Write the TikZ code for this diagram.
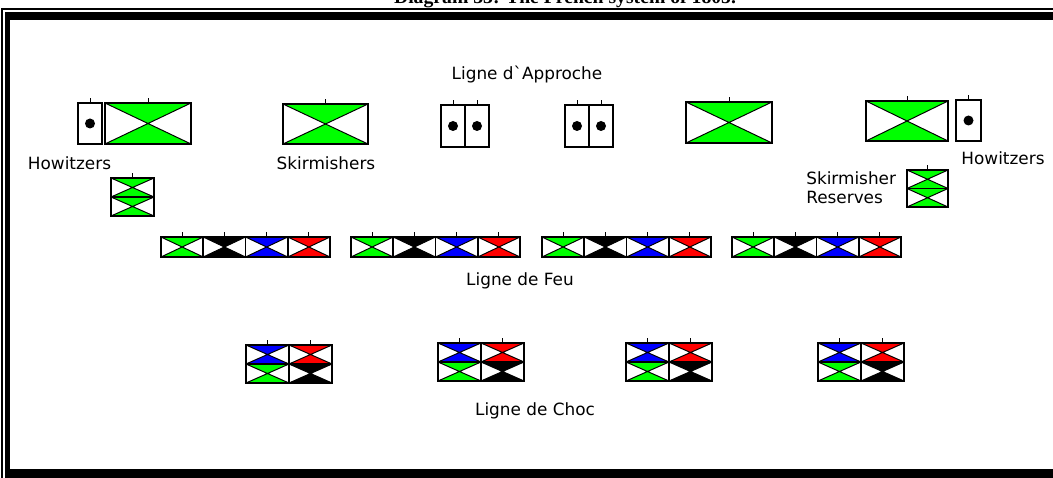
\documentclass[tikz,border=0pt]{standalone}
\usepackage{fontspec}
\setmainfont{DejaVu Sans}
\newfontfamily\titlefont{Liberation Serif}
\usetikzlibrary{positioning}

\begin{document}
\begin{tikzpicture}[
        x=0.025cm, y=-0.025cm,
        lbl/.style={inner sep=0pt, font=\fontsize{12}{14}\selectfont},
        pics/cell/.style n args={3}{code={
            \fill[#1] (0,0) -- (#2,0) -- (#2/2,#3/2) -- cycle;
            \fill[#1] (0,#3) -- (#2,#3) -- (#2/2,#3/2) -- cycle;
            \draw[line width=0.7pt] (0,0) -- (#2,#3) (0,#3) -- (#2,0);
            \draw[line width=1.3pt] (0,0) rectangle (#2,#3);
        }},
        pics/tick/.style={code={
            \draw[line width=0.7pt] (0,0) -- (0,-5);
        }},
        pics/gun/.style n args={2}{code={
            \draw[line width=1.3pt, fill=white] (0,0) rectangle (#1,#2);
            \fill (#1/2,#2/2) circle[radius=5];
            \pic at (#1/2,0) {tick};
        }},
        pics/reserve/.style n args={2}{code={
            \pic at (0,0) {cell={green}{#1}{#2}};
            \pic at (0,#2) {cell={green}{#1}{#2}};
            \pic at (#1/2,0) {tick};
        }},
        pics/feu/.style={code={
            \pic at (0,0) {cell={green}{42.25}{20}};
            \pic at (42.25,0) {cell={black}{42.25}{20}};
            \pic at (84.5,0) {cell={blue}{42.25}{20}};
            \pic at (126.75,0) {cell={red}{42.25}{20}};
            \pic at (21.1,0) {tick};
            \pic at (63.4,0) {tick};
            \pic at (105.6,0) {tick};
            \pic at (147.9,0) {tick};
        }},
        pics/choc/.style={code={
            \pic at (0,0) {cell={blue}{43}{19}};
            \pic at (43,0) {cell={red}{43}{19}};
            \pic at (0,19) {cell={green}{43}{19}};
            \pic at (43,19) {cell={black}{43}{19}};
            \pic at (21.5,0) {tick};
            \pic at (64.5,0) {tick};
        }}
    ]
        \useasboundingbox (0,0) rectangle (1053,478);

        % frame
        \fill (1.5,8.5) rectangle (1060,10);
        \fill (1.5,8.5) rectangle (3,480);
        \fill (5,12) rectangle (1060,20);
        \fill (5,12) rectangle (10,480);
        \fill (5,469) rectangle (1060,480);
        \node[anchor=base, inner sep=0pt, font=\titlefont\bfseries\fontsize{14}{16}\selectfont] (title) at (565,4)
            {Diagram 33: The French system of 1805.};

        % ligne d'approche
        \node[lbl] (approche) at (527,75) {Ligne d\textasciigrave Approche};
        \pic at (78,103) {gun={24}{41}};
        \pic at (105,103) {cell={green}{86}{41}};
        \pic at (148,103) {tick};
        \node[lbl] (howl) at (69.5,163) {Howitzers};
        \pic at (111,178) {reserve={43}{19}};

        \pic at (283,104) {cell={green}{85}{40}};
        \pic at (325.5,104) {tick};
        \node[lbl] (skirm) at (326,163) {Skirmishers};

        \pic at (441,105) {gun={24}{42}};
        \pic at (465,105) {gun={24}{42}};
        \pic at (565,105) {gun={24}{42}};
        \pic at (589,105) {gun={24}{42}};

        \pic at (686,102) {cell={green}{86}{41}};
        \pic at (729,102) {tick};
        \pic at (866,101) {cell={green}{82}{40}};
        \pic at (907,101) {tick};
        \pic at (956,100) {gun={25}{41}};
        \node[lbl] (howr) at (1003,158) {Howitzers};
        \pic at (907,170) {reserve={41}{18.5}};
        \node[lbl, anchor=north west, align=left] (resv) at (806,171)
            {Skirmisher\\Reserves};

        % ligne de feu
        \pic at (161,237) {feu};
        \pic at (351,237) {feu};
        \pic at (542,237) {feu};
        \pic at (732,237) {feu};
        \node[lbl] (feu) at (520,281) {Ligne de Feu};

        % ligne de choc
        \pic at (246,345) {choc};
        \pic at (438,343) {choc};
        \pic at (626,343) {choc};
        \pic at (818,343) {choc};
        \node[lbl] (choc) at (535,411) {Ligne de Choc};
    \end{tikzpicture}
\end{document}
